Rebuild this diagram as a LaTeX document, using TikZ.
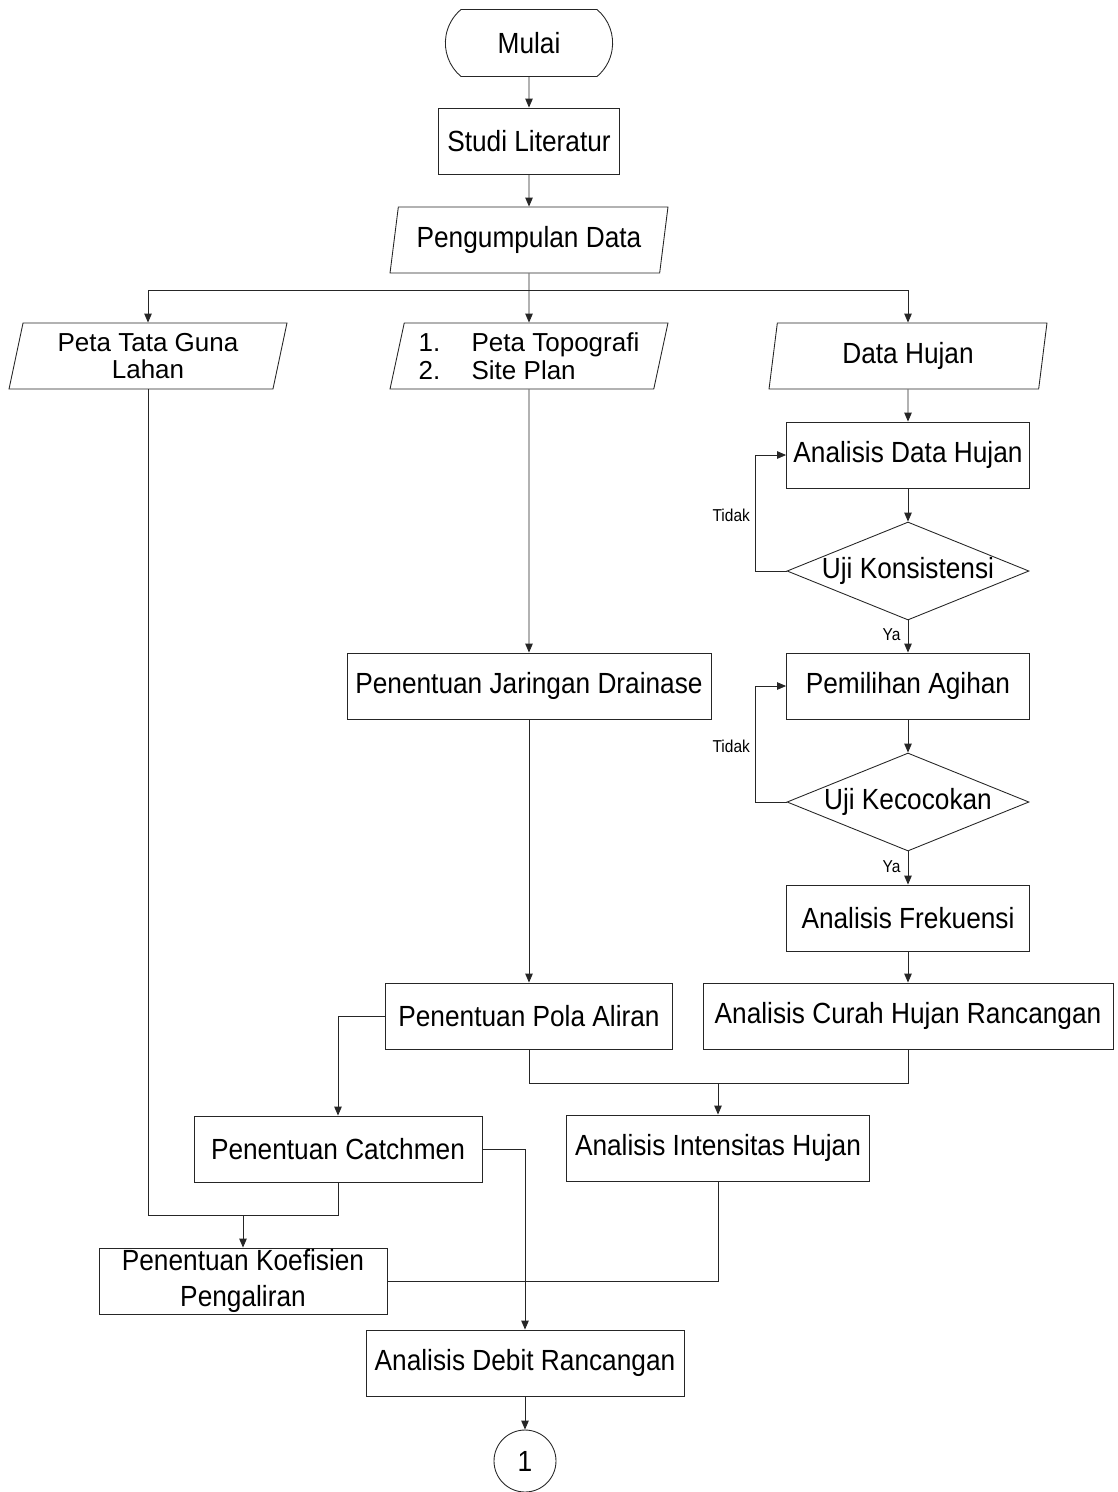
\documentclass[tikz,border=0pt]{standalone}
\usepackage{fontspec}
\setmainfont[FakeStretch=0.9]{Liberation Sans}
\newfontfamily\listfont{Liberation Sans}
\usetikzlibrary{arrows.meta, shapes.geometric, shapes.misc}

\begin{document}
\begin{tikzpicture}[
  x=0.02cm, y=-0.02cm,
  >={Triangle[length=1.8mm, width=1.5mm]},
  line width=0.5pt, draw=black!85,
  every node/.style={font=\fontsize{16.6}{20}\selectfont},
  proc/.style={draw, rectangle, minimum height=1.32cm, inner sep=0pt},
  io/.style={draw, trapezium, trapezium left angle=73, trapezium right angle=107,
             trapezium stretches body, minimum width=5.56cm, minimum height=1.32cm,
             inner sep=0pt},
  iolist/.style={io, font=\listfont\fontsize{14.8}{15.6}\selectfont},
  dec/.style={draw, diamond, minimum width=4.84cm, minimum height=1.96cm, inner sep=0pt},
  term/.style={draw, rounded rectangle, rounded rectangle arc length=100,
               minimum width=3.58cm, minimum height=1.34cm},
  conn/.style={draw, circle, minimum size=1.24cm, inner sep=0pt},
  lbl/.style={font=\fontsize{9.8}{11}\selectfont, inner sep=0pt}
]
\useasboundingbox (0,0) rectangle (1118,1492);

% main column
\node[term] (start) at (529,43) {Mulai};
\node[proc, minimum width=3.62cm] (lit) at (529,141) {Studi Literatur};
\node[io] (data) at (529,240) {Pengumpulan Data};
\node[iolist, align=center] (lahan) at (148,356) {Peta Tata Guna\\Lahan};
\node[iolist, align=left] (topo) at (529,356)
  {\makebox[1.06cm][l]{1.}Peta Topografi\\\makebox[1.06cm][l]{2.}Site Plan};
\node[io] (hujan) at (908,356) {Data Hujan};
\node[proc, minimum width=7.28cm] (jaringan) at (529,686) {Penentuan Jaringan Drainase};
\node[proc, minimum width=5.74cm] (pola) at (529,1016) {Penentuan Pola Aliran};

% rainfall column
\node[proc, minimum width=4.86cm] (adh) at (908,455) {Analisis Data Hujan};
\node[dec] (konsist) at (908,571) {\makebox[0pt]{Uji Konsistensi}};
\node[proc, minimum width=4.86cm] (agihan) at (908,686) {Pemilihan Agihan};
\node[dec] (cocok) at (908,802) {\makebox[0pt]{Uji Kecocokan}};
\node[proc, minimum width=4.86cm] (frek) at (908,918) {Analisis Frekuensi};
\node[proc, minimum width=8.2cm] (curah) at (908,1016) {Analisis Curah Hujan Rancangan};

% lower part
\node[proc, minimum width=6.06cm] (intens) at (718,1148) {Analisis Intensitas Hujan};
\node[proc, minimum width=5.76cm] (catch) at (338,1149) {Penentuan Catchmen};
\node[proc, minimum width=5.76cm, align=center] (koef) at (243,1281)
  {Penentuan Koefisien\\Pengaliran};
\node[proc, minimum width=6.36cm] (debit) at (525,1363) {Analisis Debit Rancangan};
\node[conn] (off) at (525,1461) {1};

\coordinate (split) at (529,290);
\coordinate (merge) at (718,1083);
\coordinate (join) at (243,1215);

\draw[->] (start) -- (lit);
\draw[->] (lit) -- (data);
\draw (data) -- (split);
\draw[->] (split) -- (topo);
\draw[->] (split) -| (lahan);
\draw[->] (split) -| (hujan);

\draw[->] (hujan) -- (adh);
\draw[->] (adh) -- (konsist);
\draw[->] (konsist.west) -- ++(-31,0) |- node[lbl, pos=0.24, left=3pt]{Tidak} (adh.west);
\draw[->] (konsist) -- node[lbl, pos=0.45, left=4pt]{Ya} (agihan);
\draw[->] (agihan) -- (cocok);
\draw[->] (cocok.west) -- ++(-31,0) |- node[lbl, pos=0.24, left=3pt]{Tidak} (agihan.west);
\draw[->] (cocok) -- node[lbl, pos=0.45, left=4pt]{Ya} (frek);
\draw[->] (frek) -- (curah);

\draw[->] (topo) -- (jaringan);
\draw[->] (jaringan) -- (pola);
\draw[->] (pola.west) -| (catch);
\draw (pola) |- (merge) -| (curah);
\draw[->] (merge) -- (intens);
\draw (lahan) |- (join) -| (catch);
\draw[->] (join) -- (koef);
\draw[->] (catch) -| (debit);
\draw (intens) |- (koef);
\draw[->] (debit) -- (off);
\end{tikzpicture}
\end{document}
